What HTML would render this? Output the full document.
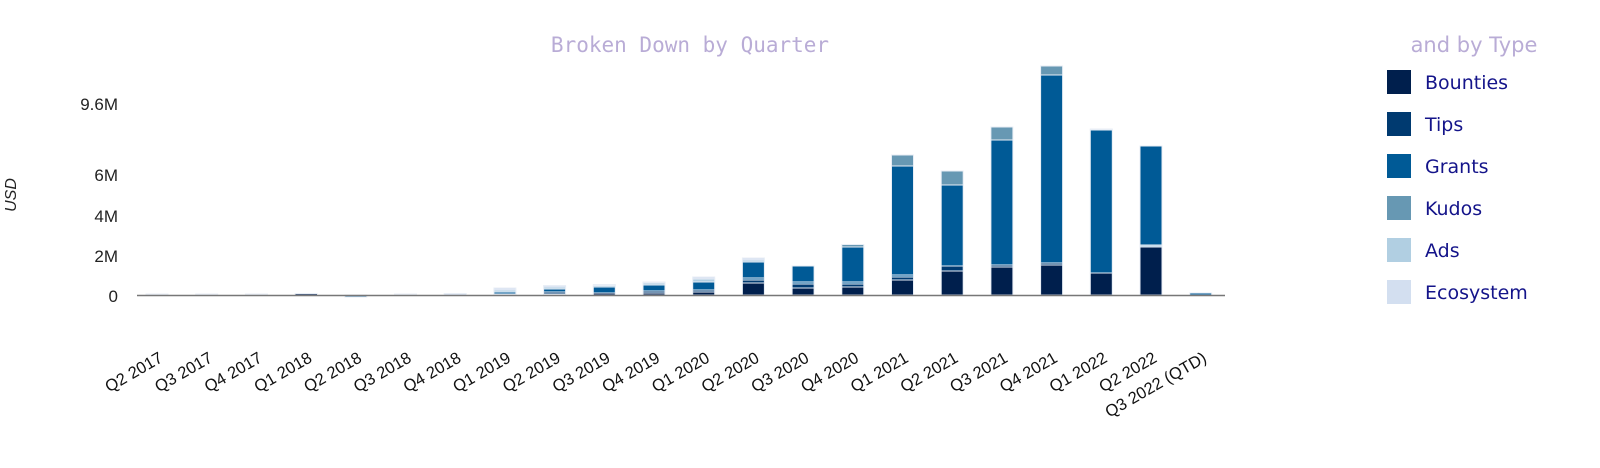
<!DOCTYPE html>
<html><head><meta charset="utf-8"><style>
html,body{margin:0;padding:0;background:#fff;}
svg{display:block;}
</style></head><body>
<svg width="1600" height="468" xmlns="http://www.w3.org/2000/svg" font-family="Liberation Sans, sans-serif">
<text x="690" y="52" text-anchor="middle" font-family="DejaVu Sans Mono, monospace" font-size="21" fill="#b9acd6">Broken Down by Quarter</text>
<text x="1474" y="52" text-anchor="middle" font-family="DejaVu Sans, sans-serif" font-size="21" fill="#b9acd6">and by Type</text>
<text x="16" y="195" transform="rotate(-90 16 195)" text-anchor="middle" font-size="16" font-style="italic" fill="#222">USD</text>
<g font-size="17" fill="#222" text-anchor="end">
<text x="118" y="110">9.6M</text>
<text x="118" y="181">6M</text>
<text x="118" y="222">4M</text>
<text x="118" y="262">2M</text>
<text x="118" y="302">0</text>
</g>
<g id="bars" stroke="#e8eef6" stroke-width="1"></g>
<line x1="137" y1="295.5" x2="1225" y2="295.5" stroke="#777" stroke-width="1.5"/>
<g id="labels" font-size="16.5" fill="#111" text-anchor="end"></g>
<g font-size="19" fill="#14148a" font-family="DejaVu Sans, sans-serif">
<rect x="1387" y="70" width="24" height="24" fill="#001f4d"/><text x="1425" y="89">Bounties</text>
<rect x="1387" y="112" width="24" height="24" fill="#003a70"/><text x="1425" y="131">Tips</text>
<rect x="1387" y="154" width="24" height="24" fill="#005a96"/><text x="1425" y="173">Grants</text>
<rect x="1387" y="196" width="24" height="24" fill="#6798b3"/><text x="1425" y="215">Kudos</text>
<rect x="1387" y="238" width="24" height="24" fill="#b1cfe2"/><text x="1425" y="257">Ads</text>
<rect x="1387" y="280" width="24" height="24" fill="#d3dff0"/><text x="1425" y="299">Ecosystem</text>
</g>
<script>
var C={b:"#001f4d",t:"#003a70",g:"#005a96",k:"#6798b3",a:"#b1cfe2",e:"#d3dff0"};
var labels=["Q2 2017","Q3 2017","Q4 2017","Q1 2018","Q2 2018","Q3 2018","Q4 2018","Q1 2019","Q2 2019","Q3 2019","Q4 2019","Q1 2020","Q2 2020","Q3 2020","Q4 2020","Q1 2021","Q2 2021","Q3 2021","Q4 2021","Q1 2022","Q2 2022","Q3 2022 (QTD)"];
var D=[
[["g",294]],
[["g",294]],
[["g",294]],
[["b",293.5]],
[["g",297,"neg"]],
[["g",294]],
[["e",293.5]],
[["b",294],["g",292],["a",290],["e",288]],
[["b",294],["t",292],["g",289],["a",287],["e",285.5]],
[["b",293],["g",287],["a",285.5],["e",284.5]],
[["b",293],["t",291],["g",285],["a",283],["e",282]],
[["b",292],["t",290],["g",282],["a",279],["e",277]],
[["b",283],["t",280],["g",278],["g",262],["a",260],["e",258]],
[["b",288],["t",284],["g",282],["g",266]],
[["b",287],["t",284],["g",282],["g",247],["k",244.5]],
[["b",280],["t",277],["g",275],["g",166],["k",155]],
[["b",271],["t",266],["g",266],["g",185],["k",171]],
[["b",267],["t",265],["g",265],["g",140],["k",127]],
[["b",265],["t",263],["g",263],["g",75],["k",66]],
[["b",273],["g",273],["g",130],["k",129]],
[["b",247],["a",245],["g",245],["g",146]],
[["g",293]]
];
var ns="http://www.w3.org/2000/svg",bars=document.getElementById("bars"),lab=document.getElementById("labels");
for(var i=0;i<22;i++){
 var cx=157+i*49.7, x=cx-11, prev=295;
 D[i].forEach(function(s){
  var r=document.createElementNS(ns,"rect");
  var top=s[1],bot=prev;
  if(s[2]=="neg"){top=295;bot=s[1];}
  else prev=top;
  if(bot-top<=0)return;
  r.setAttribute("x",x);r.setAttribute("y",top);r.setAttribute("width",22);r.setAttribute("height",bot-top);
  r.setAttribute("fill",C[s[0]]);bars.appendChild(r);
 });
 var t=document.createElementNS(ns,"text");
 var tx=cx+7,ty=361;
 t.setAttribute("x",tx);t.setAttribute("y",ty);
 t.setAttribute("transform","rotate(-30 "+tx+" "+ty+")");
 t.textContent=labels[i];lab.appendChild(t);
}
</script>
</svg>
</body></html>
